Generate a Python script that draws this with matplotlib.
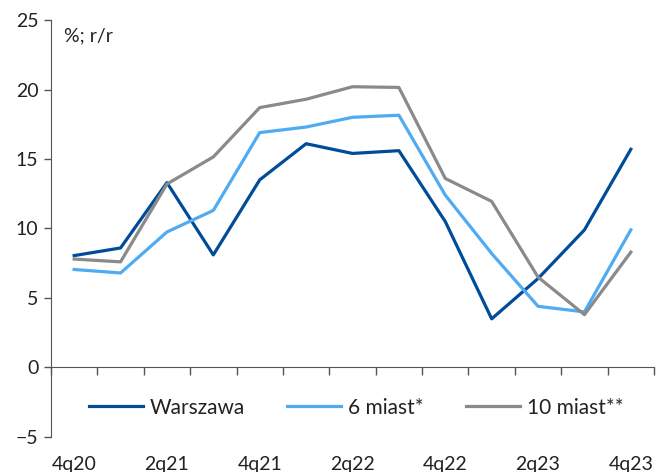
import matplotlib.pyplot as plt
import matplotlib.transforms as mtransforms
import numpy as np

quarters = ["4q20", "1q21", "2q21", "3q21", "4q21", "1q22", "2q22",
            "3q22", "4q22", "1q23", "2q23", "3q23", "4q23"]
warszawa = [8.05, 8.6, 13.3, 8.1, 13.5, 16.1, 15.4, 15.6, 10.5, 3.5, 6.4, 9.9, 15.7]
miast6 = [7.05, 6.8, 9.75, 11.3, 16.9, 17.3, 18.0, 18.15, 12.4, 8.2, 4.4, 4.0, 9.9]
miast10 = [7.8, 7.6, 13.2, 15.15, 18.7, 19.3, 20.2, 20.15, 13.6, 11.95, 6.5, 3.8, 8.3]

plt.rcParams["font.family"] = ["Lato", "DejaVu Sans"]

fig = plt.figure(figsize=(6.56, 4.72), dpi=100)
ax = fig.add_axes([0.0777, 0.0742, 0.9193, 0.8834])

x = np.arange(len(quarters))
lw = 2.3
ax.plot(x, warszawa, color="#004c98", lw=lw, label="Warszawa")
ax.plot(x, miast6, color="#4fabf2", lw=lw, label="6 miast*")
ax.plot(x, miast10, color="#8a8a8a", lw=lw, label="10 miast**")

ax.set_xlim(-0.5, len(quarters) - 0.5)
ax.set_ylim(-5, 25)
ax.set_yticks(np.arange(-5, 26, 5))
ax.tick_params(axis="y", labelsize=14, length=5, width=1, color="#555555",
               pad=4, labelcolor="#222222")

# category boundaries as ticks on the zero line, labels every second quarter
for s in ["top", "right"]:
    ax.spines[s].set_visible(False)
ax.spines["left"].set_color("#555555")
ax.spines["bottom"].set_position(("data", 0))
ax.spines["bottom"].set_color("#555555")
ax.set_xticks(np.arange(-0.5, len(quarters), 1.0))
ax.set_xticklabels([])
ax.tick_params(axis="x", length=6, width=1, color="#555555", direction="out")

trans = mtransforms.blended_transform_factory(ax.transData, ax.transAxes)
for i in range(0, len(quarters), 2):
    ax.text(x[i], -0.065, quarters[i], transform=trans, ha="center", va="center",
            fontsize=14, color="#222222")

ax.text(0.022, 0.962, "%; r/r", transform=ax.transAxes, ha="left", va="center",
        fontsize=14, color="#222222")

ax.legend(loc="center", bbox_to_anchor=(0.506, 0.07), ncol=3, frameon=False,
          fontsize=15, handlelength=2.6, columnspacing=2.0, handletextpad=0.35,
          labelcolor="#222222")

fig.savefig("out.png", dpi=100)
